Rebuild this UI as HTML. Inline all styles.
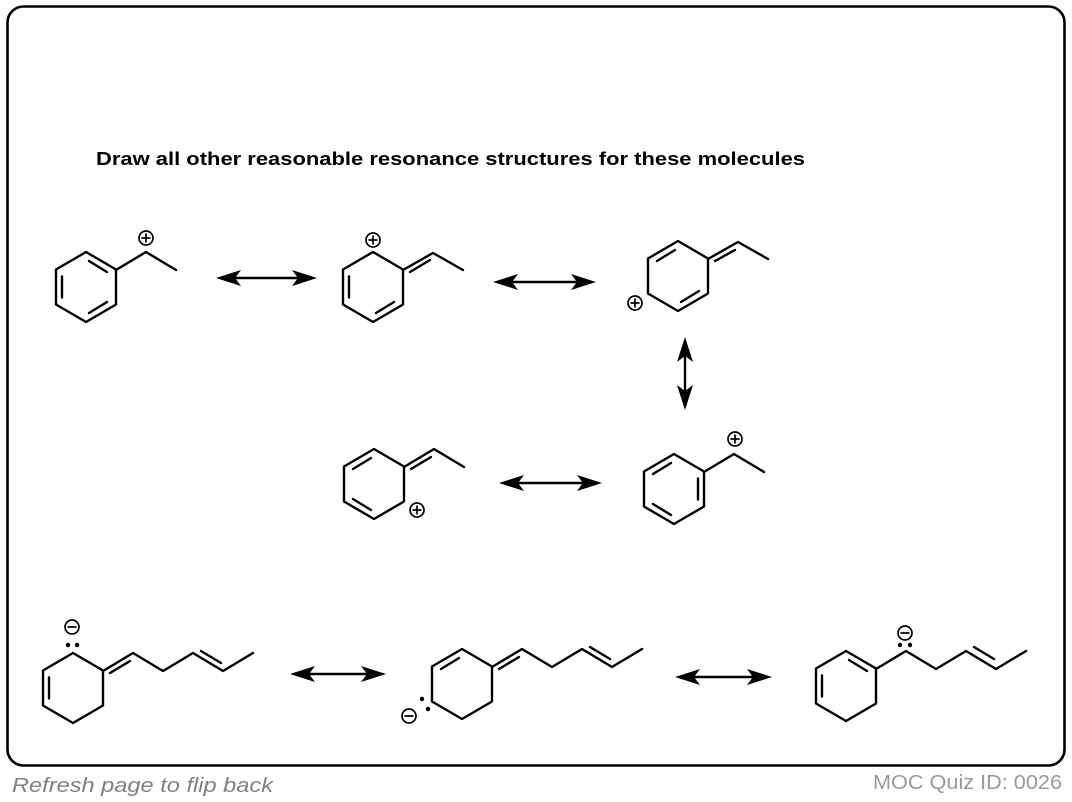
<!DOCTYPE html>
<html><head><meta charset="utf-8"><style>
html,body{margin:0;padding:0;background:#fff;}
svg{display:block;}
</style></head><body>
<svg width="1072" height="802" viewBox="0 0 1072 802" xmlns="http://www.w3.org/2000/svg">
<defs>
<g id="plus"><circle r="7" fill="#fff" stroke="#000" stroke-width="1.7"/><path d="M-4.5 0H4.5M0 -4.5V4.5" stroke="#000" stroke-width="1.7"/></g>
<g id="minus"><circle r="7" fill="#fff" stroke="#000" stroke-width="1.7"/><path d="M-4.5 0H4.5" stroke="#000" stroke-width="1.7"/></g>
<polygon id="hex" points="0,-35 30,-17.5 30,17.5 0,35 -30,17.5 -30,-17.5" fill="none" stroke="#000" stroke-width="2.4" stroke-linejoin="round"/>
<g id="ah"><polygon points="0,0 25,-8 19,0 25,8" fill="#000"/></g>
</defs>
<rect x="7.5" y="6.5" width="1057" height="759" rx="16" ry="16" fill="none" stroke="#000" stroke-width="2.6"/>
<text x="96" y="165" font-family="Liberation Sans, sans-serif" font-weight="bold" font-size="18" textLength="709" lengthAdjust="spacingAndGlyphs">Draw all other reasonable resonance structures for these molecules</text>

<g stroke="#000" stroke-width="2.4" fill="none" stroke-linecap="round" stroke-linejoin="round">
<g transform="translate(86,287)"><use href="#hex"/><path d="M3 -26L21 -15M-24 10.5L-24 -10.5M21 15L3 26"/></g>
<path d="M116 270L146 252L176 270"/>
<g transform="translate(373,287)"><use href="#hex"/><path d="M-24 10.5L-24 -10.5M21 15L3 26"/></g>
<path d="M403 270L433 253L463 270M410 272L430 260"/>
<g transform="translate(678,276)"><use href="#hex"/><path d="M-21 -15L-3 -26M21 15L3 26"/></g>
<path d="M708 259L738 242L768 259M715 261L735 250"/>
<g transform="translate(374,484)"><use href="#hex"/><path d="M-21 -15L-3 -26M-3 26L-21 15"/></g>
<path d="M404 467L434 449L464 467M411 469L431 457"/>
<g transform="translate(674,489)"><use href="#hex"/><path d="M-21 -15L-3 -26M24 -10.5L24 10.5M-3 26L-21 15"/></g>
<path d="M704 472L734 454L764 472"/>
<g transform="translate(73,688)"><use href="#hex"/><path d="M-24 10.5L-24 -10.5"/></g>
<path d="M103 671L133 653L163 671L193 653L223 671L253 653M110 673L130 661M201 651L221 663"/>
<g transform="translate(462,684)"><use href="#hex"/><path d="M-21 -15L-3 -26"/></g>
<path d="M492 667L522 649L552 667L582 649L612 667L642 649M499 669L519 657M590 647L610 659"/>
<g transform="translate(846,686)"><use href="#hex"/><path d="M3 -26L21 -15M-24 10.5L-24 -10.5"/></g>
<path d="M876 669L906 651L936 669L966 651L996 669L1026 651M974 647L994 659"/>
<path d="M230 278H303M507 282H582M513 483H588M304 674H372M689 677H758M685 351V396"/>
</g>

<use href="#ah" transform="translate(216,278)"/><use href="#ah" transform="translate(317,278) rotate(180)"/>
<use href="#ah" transform="translate(493,282)"/><use href="#ah" transform="translate(596,282) rotate(180)"/>
<use href="#ah" transform="translate(499,483)"/><use href="#ah" transform="translate(602,483) rotate(180)"/>
<use href="#ah" transform="translate(290,674)"/><use href="#ah" transform="translate(386,674) rotate(180)"/>
<use href="#ah" transform="translate(675,677)"/><use href="#ah" transform="translate(772,677) rotate(180)"/>
<use href="#ah" transform="translate(685,337) rotate(90)"/><use href="#ah" transform="translate(685,410) rotate(-90)"/>

<use href="#plus" x="146" y="238"/>
<use href="#plus" x="373" y="240"/>
<use href="#plus" x="635" y="303"/>
<use href="#plus" x="417" y="510"/>
<use href="#plus" x="735" y="439"/>
<use href="#minus" x="72" y="627"/>
<use href="#minus" x="409" y="716"/>
<use href="#minus" x="905" y="633"/>
<g fill="#000">
<circle cx="68" cy="645" r="2.2"/><circle cx="77" cy="645" r="2.2"/>
<circle cx="422" cy="699" r="2.2"/><circle cx="428" cy="709" r="2.2"/>
<circle cx="900" cy="645" r="2.2"/><circle cx="910" cy="645" r="2.2"/>
</g>

<text x="12" y="792" font-family="Liberation Sans, sans-serif" font-style="italic" font-size="20" fill="#808080" textLength="261" lengthAdjust="spacingAndGlyphs">Refresh page to flip back</text>
<text x="1062" y="789" text-anchor="end" font-family="Liberation Sans, sans-serif" font-size="20" fill="#999" textLength="189" lengthAdjust="spacingAndGlyphs">MOC Quiz ID: 0026</text>
</svg>
</body></html>
